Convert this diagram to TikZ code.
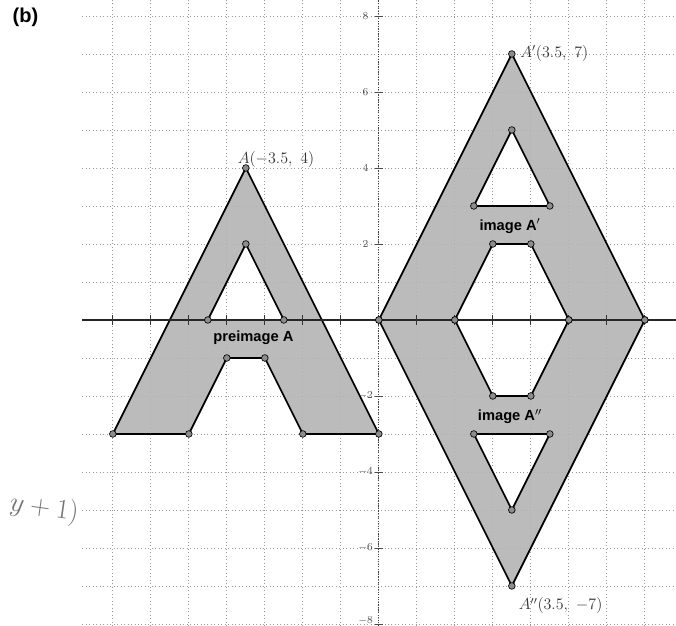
\documentclass[tikz,border=0pt]{standalone}
\usepackage{fontspec}
\setsansfont{Liberation Sans}
\tikzset{
  shapefill/.style={fill={rgb,255:red,180;green,180;blue,180}, fill opacity=0.9, draw=black, line width=1.3pt, line join=round},
  vdot/.style={circle, fill={rgb,255:red,140;green,140;blue,140}, draw=black, line width=0.5pt, inner sep=0pt, minimum size=5pt},
  ptlabel/.style={font=\fontsize{12}{14}\selectfont, text=black!80, inner sep=0pt},
  shapelabel/.style={font=\sffamily\bfseries\fontsize{11}{13}\selectfont, inner sep=1pt},
  ticklabel/.style={font=\fontsize{8}{9}\selectfont, text=black!70, inner sep=0pt},
}
% letter A with a triangular hole, preimage position
\newcommand{\letterA}{%
  \coordinate (o1) at (-7,-3); \coordinate (o2) at (-5,-3); \coordinate (o3) at (-4,-1);
  \coordinate (o4) at (-3,-1); \coordinate (o5) at (-2,-3); \coordinate (o6) at (0,-3);
  \coordinate (o7) at (-3.5,4);
  \coordinate (i1) at (-4.5,0); \coordinate (i2) at (-2.5,0); \coordinate (i3) at (-3.5,2);
  \filldraw[shapefill, even odd rule] (o1) -- (o2) -- (o3) -- (o4) -- (o5) -- (o6) -- (o7) -- cycle
    (i1) -- (i2) -- (i3) -- cycle;
}
\begin{document}
\begin{tikzpicture}[x=1cm,y=1cm]
\useasboundingbox (-9.97,-8.05) rectangle (7.82,8.42);
\draw[black!40, dotted, line width=0.6pt, step=1] (-7.8,-8.05) grid (7.82,8.42);
% the three letters
\begin{scope}[name prefix=pre-]
\letterA
\end{scope}
\begin{scope}[name prefix=img-, shift={(7,3)}]
\letterA
\end{scope}
\begin{scope}[name prefix=dbl-, yscale=-1, shift={(7,3)}]
\letterA
\end{scope}
% axes
\coordinate (xl) at (-7.8,0); \coordinate (xr) at (7.82,0);
\coordinate (yb) at (0,-8.05); \coordinate (yt) at (0,8.42);
\draw[black!85, line width=0.9pt] (xl) -- (xr);
\draw[black!75, densely dotted, line width=0.9pt] (yb) -- (yt);
\foreach \x in {-7,...,7} \draw[black!80, line width=0.6pt] (\x,-0.13) -- (\x,0.13);
\foreach \y in {-8,-6,-4,-2,2,4,6,8} {
  \draw[black!70, line width=0.6pt] (-0.1,\y) -- (0.1,\y);
}
\foreach \y in {-6,-4,-2,2,4,6,8} \node[ticklabel] (yl\y) at (-0.35,\y) {$\y$};
\node[ticklabel, anchor=south] (yl-8) at (-0.35,-8.03) {$-8$};
% vertices
\foreach \s in {pre,img,dbl}
  \foreach \v in {o1,o2,o3,o4,o5,o6,o7,i1,i2,i3}
    \node[vdot] (\s-\v-dot) at (\s-\v) {};
% labels
\node[ptlabel, anchor=base west] (labA) at (-3.72,4.13) {$A(-3.5,\ 4)$};
\node[ptlabel, anchor=base west] (labA1) at (3.72,6.9) {$A'(3.5,\ 7)$};
\node[ptlabel, anchor=base west] (labA2) at (3.68,-7.63) {$A''(3.5,\ {-7})$};
\node[shapelabel] (pre) at (-3.3,-0.47) {preimage A};
\node[shapelabel] (img) at (3.45,2.47) {image A$'$};
\node[shapelabel] (dbl) at (3.45,-2.55) {image A$''$};
\node[font=\sffamily\bfseries\fontsize{15}{18}\selectfont, inner sep=0pt] (panel) at (-9.3,7.97) {(b)};
\node[text=black!55, font=\huge, rotate=-8, anchor=east, inner sep=0pt] (note) at (-7.9,-5.1) {$y+1\Big)$};
\end{tikzpicture}
\end{document}
